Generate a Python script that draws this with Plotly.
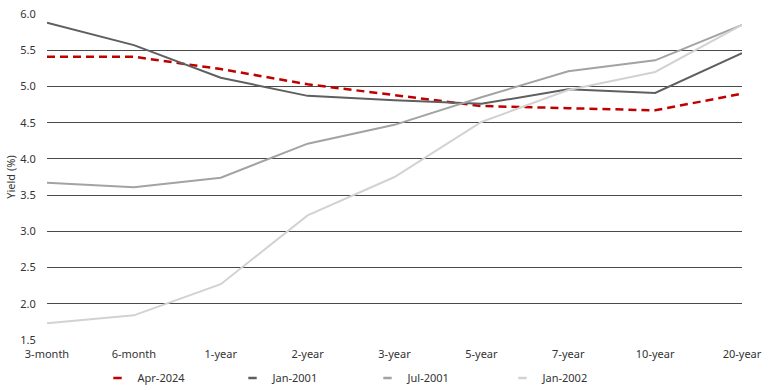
import plotly.graph_objects as go

maturities = ["3-month", "6-month", "1-year", "2-year", "3-year", "5-year", "7-year", "10-year", "20-year"]
apr_2024 = [5.41, 5.41, 5.24, 5.03, 4.88, 4.73, 4.70, 4.67, 4.90]
jan_2001 = [5.88, 5.57, 5.12, 4.87, 4.81, 4.76, 4.96, 4.91, 5.46]
jul_2001 = [3.67, 3.61, 3.74, 4.21, 4.47, 4.85, 5.21, 5.36, 5.85]
jan_2002 = [1.73, 1.84, 2.27, 3.22, 3.75, 4.51, 4.95, 5.20, 5.85]

series = [
    ("Apr-2024", apr_2024, "#C00000", "8px,5px", 2.5),
    ("Jan-2001", jan_2001, "#5F5F5F", "solid", 2),
    ("Jul-2001", jul_2001, "#A3A3A3", "solid", 2),
    ("Jan-2002", jan_2002, "#D4D2D0", "solid", 2),
]

fig = go.Figure()
for name, vals, color, dash, w in series:
    fig.add_trace(go.Scatter(x=maturities, y=vals, mode="lines", name=name,
                             line=dict(color=color, width=w, dash=dash),
                             showlegend=False))
for name, vals, color, dash, w in series:
    fig.add_trace(go.Scatter(x=[None], y=[None], mode="markers", name=name,
                             marker=dict(symbol="line-ew-open", size=6, color=color,
                                         line=dict(color=color, width=2.5)),
                             showlegend=True))

fig.update_layout(
    width=780, height=390,
    margin=dict(l=47, r=38, t=14, b=50),
    paper_bgcolor="white", plot_bgcolor="white",
    font=dict(family="Noto Sans", size=11, color="#333333"),
    xaxis=dict(range=[0, 8], showgrid=False, showline=False,
               ticks="outside", ticklen=4, tickcolor="rgba(0,0,0,0)",
               tickfont=dict(size=11), automargin=False),
    yaxis=dict(range=[1.5, 6.0], dtick=0.5, tickformat=".1f",
               gridcolor="#4a4a4a", gridwidth=1, zeroline=False, showline=False,
               ticks="outside", ticklen=8, tickcolor="rgba(0,0,0,0)",
               title=dict(text="Yield (%)", font=dict(size=11), standoff=2),
               automargin=False),
    legend=dict(orientation="h", xref="container", yref="container",
                x=0.125, y=0.031, xanchor="left", yanchor="middle",
                entrywidth=90, entrywidthmode="pixels", itemwidth=30,
                font=dict(size=11), bgcolor="rgba(0,0,0,0)"),
)

fig.write_html("out.html", config={"displayModeBar": False},
               post_script="document.body.style.margin='0';")
